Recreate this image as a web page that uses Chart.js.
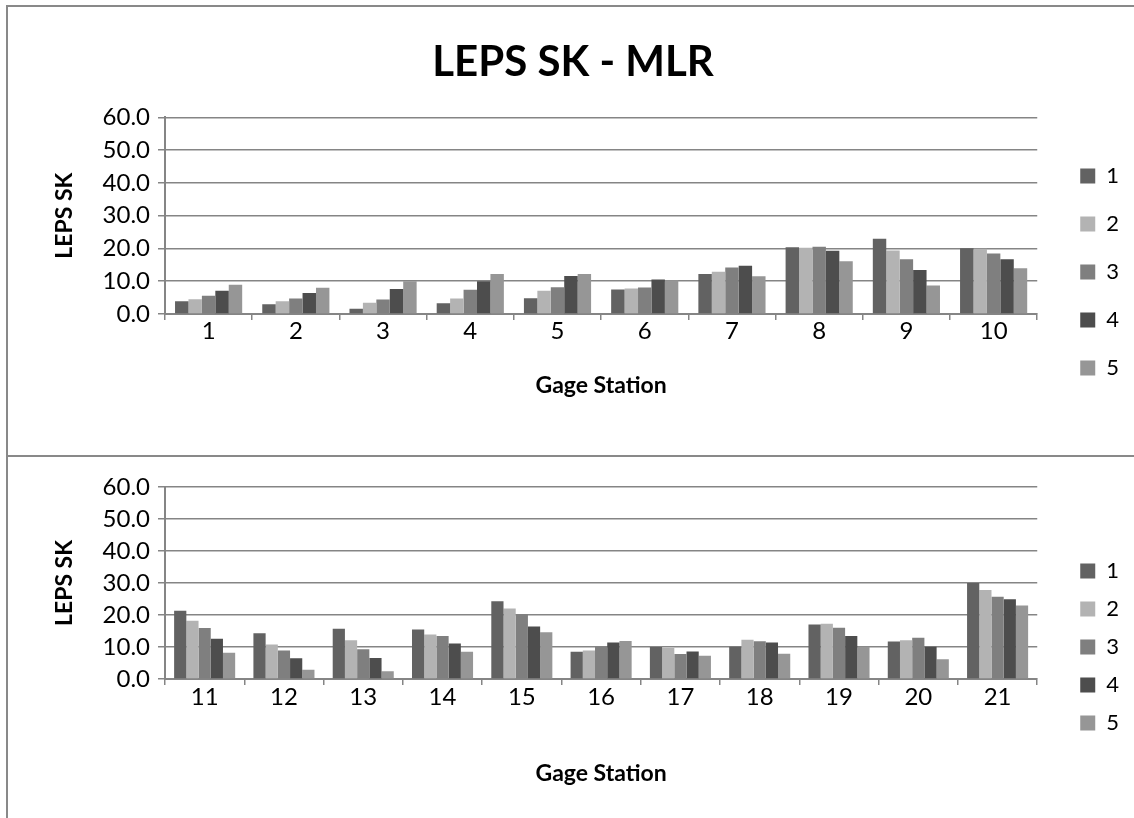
<!DOCTYPE html>
<html>
<head>
<meta charset="utf-8">
<script src="https://cdn.jsdelivr.net/npm/chart.js@4.4.1/dist/chart.umd.min.js"></script>
<style>
  body { margin: 0; background: #fff; width: 1134px; height: 818px; overflow: hidden; position: relative; }
  #frame { position: absolute; left: 6px; top: 5px; width: 1200px; height: 900px; border-left: 2px solid #898989; border-top: 2px solid #898989; }
  #divider { position: absolute; left: 6px; top: 455px; width: 1200px; height: 2px; background: #898989; }
  canvas { position: absolute; left: 0; }
</style>
</head>
<body>
<div id="frame"></div>
<div id="divider"></div>
<canvas id="topChart" width="1134" height="456" style="top:0"></canvas>
<canvas id="bottomChart" width="1134" height="362" style="top:456px"></canvas>
<script>
// gage stations on each panel
const topStations = ['1', '2', '3', '4', '5', '6', '7', '8', '9', '10'];
const bottomStations = ['11', '12', '13', '14', '15', '16', '17', '18', '19', '20', '21'];

const seriesNames = ['1', '2', '3', '4', '5'];
const seriesColors = ['#626262', '#b3b3b3', '#7f7f7f', '#4d4d4d', '#969696'];
const yTicks = [0, 10, 20, 30, 40, 50, 60];

// LEPS SK values, stations 1-10
const top1 = [3.9, 3.0, 1.6, 3.3, 4.8, 7.5, 12.2, 20.4, 23.0, 20.1];
const top2 = [4.5, 3.9, 3.4, 4.7, 7.1, 7.8, 12.9, 20.2, 19.4, 19.9];
const top3 = [5.6, 4.7, 4.4, 7.4, 8.2, 8.1, 14.2, 20.5, 16.7, 18.5];
const top4 = [7.1, 6.4, 7.6, 10.0, 11.6, 10.5, 14.7, 19.3, 13.4, 16.7];
const top5 = [8.9, 8.0, 10.0, 12.2, 12.2, 10.3, 11.5, 16.1, 8.7, 14.0];

// LEPS SK values, stations 11-21
const bottom1 = [21.3, 14.3, 15.7, 15.5, 24.3, 8.5, 10.0, 10.1, 17.0, 11.7, 30.0];
const bottom2 = [18.2, 10.8, 12.1, 13.9, 22.0, 8.9, 9.7, 12.3, 17.3, 12.1, 27.8];
const bottom3 = [15.9, 8.9, 9.3, 13.4, 20.2, 10.1, 7.8, 11.8, 16.0, 12.9, 25.7];
const bottom4 = [12.6, 6.5, 6.6, 11.1, 16.4, 11.4, 8.6, 11.4, 13.4, 10.1, 24.9];
const bottom5 = [8.2, 2.9, 2.4, 8.5, 14.6, 11.9, 7.3, 7.9, 10.1, 6.2, 23.0];

Chart.defaults.font.family = 'Lato';
Chart.defaults.color = '#000';
Chart.defaults.animation = false;

const gridGray = '#858585';

function makePanel(canvasId, labels, values, layout) {
    const ctx = document.getElementById(canvasId).getContext('2d');
    const datasets = values.map((data, i) => ({
        label: seriesNames[i],
        data: data,
        backgroundColor: seriesColors[i],
        borderWidth: 0,
        categoryPercentage: 0.77,
        barPercentage: 1.0
    }));

    return new Chart(ctx, {
        type: 'bar',
        data: { labels: labels, datasets: datasets },
        options: {
            responsive: false,
            layout: {
                padding: { left: 17, right: 5, top: layout.padTop, bottom: 0 }
            },
            scales: {
                x: {
                    grid: { drawOnChartArea: false, offset: true, tickLength: 6, color: gridGray, lineWidth: 1.5 },
                    border: { color: gridGray, width: 2 },
                    ticks: { font: { size: 24, lineHeight: 1 }, padding: layout.xLabelPad, maxRotation: 0 },
                    title: { display: true, text: 'Gage Station', font: { size: 23, weight: 'bold' }, padding: { top: 0, bottom: layout.xTitleBottom } },
                    afterFit: (scale) => { scale.height = layout.xHeight; }
                },
                y: {
                    min: 0,
                    max: 60,
                    afterBuildTicks: (scale) => { scale.ticks = yTicks.map(v => ({ value: v })); },
                    grid: { color: gridGray, lineWidth: 1.5, tickLength: 7 },
                    border: { color: gridGray, width: 2 },
                    ticks: { font: { size: 24, lineHeight: 1 }, padding: 8, callback: (v) => v.toFixed(1) },
                    title: { display: true, text: 'LEPS SK', font: { size: 23, weight: 'bold' }, padding: { top: 34, bottom: 0 } },
                    afterFit: (scale) => { scale.width = 148; }
                },
                // empty right axis, only keeps the legend away from the plot
                gap: {
                    type: 'linear',
                    axis: 'y',
                    position: 'right',
                    grid: { display: false },
                    border: { display: false },
                    ticks: { display: false },
                    afterFit: (scale) => { scale.width = layout.legendGap; }
                }
            },
            plugins: {
                title: layout.title ? {
                    display: true,
                    text: layout.title,
                    font: { size: 42, weight: 'bold' },
                    padding: { top: 37, bottom: 30 }
                } : { display: false },
                legend: {
                    position: 'right',
                    align: 'start',
                    title: { display: true, text: '', font: { size: 10, lineHeight: 1 }, padding: { top: layout.legendTop, bottom: 0 } },
                    labels: { boxWidth: 15, boxHeight: 15, padding: layout.legendPad, font: { size: 22 } }
                },
                tooltip: { enabled: false }
            }
        }
    });
}

makePanel('topChart', topStations, [top1, top2, top3, top4, top5], {
    title: 'LEPS SK - MLR',
    padTop: 0,
    xLabelPad: -1, xHeight: 142, xTitleBottom: 57,
    legendTop: 129, legendPad: 26, legendGap: 17
});

makePanel('bottomChart', bottomStations, [bottom1, bottom2, bottom3, bottom4, bottom5], {
    title: null,
    padTop: 31,
    xLabelPad: 0, xHeight: 139, xTitleBottom: 31,
    legendTop: 47, legendPad: 16, legendGap: 27
});
</script>
</body>
</html>
